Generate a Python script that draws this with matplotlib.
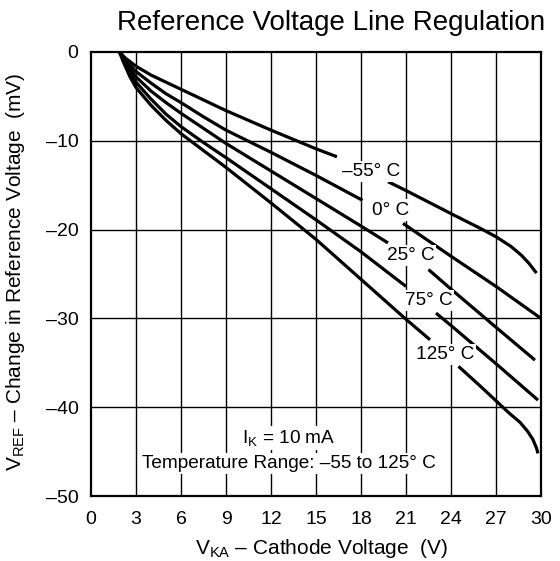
import numpy as np
import matplotlib
matplotlib.use("Agg")
import matplotlib.pyplot as plt

plt.rcParams['font.family'] = ['Liberation Sans', 'DejaVu Sans']
plt.rcParams['mathtext.fontset'] = 'custom'
plt.rcParams['mathtext.rm'] = 'Liberation Sans'
plt.rcParams['mathtext.it'] = 'Liberation Sans'

nan = np.nan

# V_KA (V) and delta V_REF (mV); nan marks the gap at the label
x_m55 = [1.9, 2.3, 3, 4, 5, 6, 7.5, 9, 12, 15, 16.4, nan,
         19.8, 21, 24, 26, 27, 28, 28.7, 29.2, 29.7]
y_m55 = [0, -0.7, -1.6, -2.6, -3.4, -4.2, -5.4, -6.6, -8.8, -10.9, -11.8, nan,
         -14.6, -15.6, -18.2, -19.9, -20.8, -21.9, -22.9, -23.8, -24.9]

x_0 = [1.9, 2.3, 3, 4, 5, 6, 7.5, 9, 12, 15, 18.1, nan, 20.8, 24, 27, 30]
y_0 = [0, -0.9, -2.2, -3.5, -4.7, -5.7, -7.3, -8.8, -11.3, -13.9, -16.7, nan,
       -19.3, -23.0, -26.4, -30.0]

x_25 = [1.9, 2.3, 3, 4, 5, 6, 7.5, 9, 12, 15, 18, 19.8, nan, 22.5, 24, 27, 29.6]
y_25 = [0, -1.1, -2.8, -4.4, -5.7, -6.9, -8.6, -10.3, -13.4, -16.5, -19.6, -21.5, nan,
        -24.5, -26.7, -31.0, -34.7]

x_75 = [1.9, 2.3, 3, 4, 5, 6, 7.5, 9, 12, 15, 18, 21.0, nan, 23.0, 24, 27, 29.8]
y_75 = [0, -1.4, -3.4, -5.3, -7.0, -8.4, -10.2, -11.9, -15.4, -18.9, -22.5, -26.4, nan,
        -29.4, -30.8, -35.1, -39.2]

x_125 = [1.9, 2.2, 2.6, 3, 4, 5, 6, 7.5, 9, 12, 15, 18, 21, 22.6, nan,
         24.5, 26, 27.9, 28.6, 29.1, 29.45, 29.7, 29.8]
y_125 = [0, -1.3, -2.8, -4.0, -6.0, -7.7, -9.2, -11.1, -13.0, -17.0, -21.1, -25.6, -30.1, -32.4, nan,
         -35.4, -37.7, -40.7, -41.7, -42.7, -43.6, -44.6, -45.2]

labels = ['\u201355\u00b0 C', '0\u00b0 C', '25\u00b0 C', '75\u00b0 C', '125\u00b0 C']
label_x = [18.7, 20.0, 21.3, 22.5, 23.6]
label_y = [-13.5, -17.8, -22.9, -28.0, -34.1]

x_ticks = [0, 3, 6, 9, 12, 15, 18, 21, 24, 27, 30]
y_ticks = [-50, -40, -30, -20, -10, 0]
y_ticklabels = ['\u201350', '\u201340', '\u201330', '\u201320', '\u201310', '0']

fig = plt.figure(figsize=(5.6, 5.61), dpi=100)
ax = fig.add_axes([91/560, 1 - 496/561, 450/560, 444/561])

curves = [(x_m55, y_m55), (x_0, y_0), (x_25, y_25), (x_75, y_75), (x_125, y_125)]
for xs, ys in curves:
    ax.plot(xs, ys, color='black', lw=2.3, solid_capstyle='butt',
            solid_joinstyle='round', zorder=3)

for xv in x_ticks[1:-1]:
    ax.axvline(xv, color='black', lw=1.0, zorder=1)
for yv in y_ticks[1:-1]:
    ax.axhline(yv, color='black', lw=1.0, zorder=1)

for t, lx, ly in zip(labels, label_x, label_y):
    ax.text(lx, ly, t, ha='center', va='center', fontsize=13.7, zorder=4,
            bbox=dict(facecolor='white', edgecolor='none', pad=1.5))

ax.text(13.2, -43.5, 'I$_{\\rm K}$ = 10 mA', ha='center', va='center', fontsize=13.7, zorder=4,
        bbox=dict(facecolor='white', edgecolor='none', pad=1.5))
ax.text(13.2, -46.3, 'Temperature Range: \u201355 to 125\u00b0 C', ha='center', va='center',
        fontsize=13.7, zorder=4, bbox=dict(facecolor='white', edgecolor='none', pad=1.5))

ax.set_xlim(0, 30)
ax.set_ylim(-50, 0)
ax.set_xticks(x_ticks)
ax.set_yticks(y_ticks)
ax.set_yticklabels(y_ticklabels)
ax.tick_params(length=0, labelsize=14)
ax.tick_params(axis='x', pad=11)
ax.tick_params(axis='y', pad=9)
for s in ax.spines.values():
    s.set_linewidth(1.6)

ax.set_xlabel('V$_{\\rm KA}$ \u2013 Cathode Voltage  (V)', fontsize=15)
ax.xaxis.set_label_coords(0.513, -0.093)
ax.set_ylabel('V$_{\\rm REF}$ \u2013 Change in Reference Voltage  (mV)', fontsize=15)
ax.yaxis.set_label_coords(-0.142, 0.505)

ax.set_title('Reference Voltage Line Regulation', fontsize=20, x=0.533, pad=16)

fig.savefig('out.png', dpi=100)
